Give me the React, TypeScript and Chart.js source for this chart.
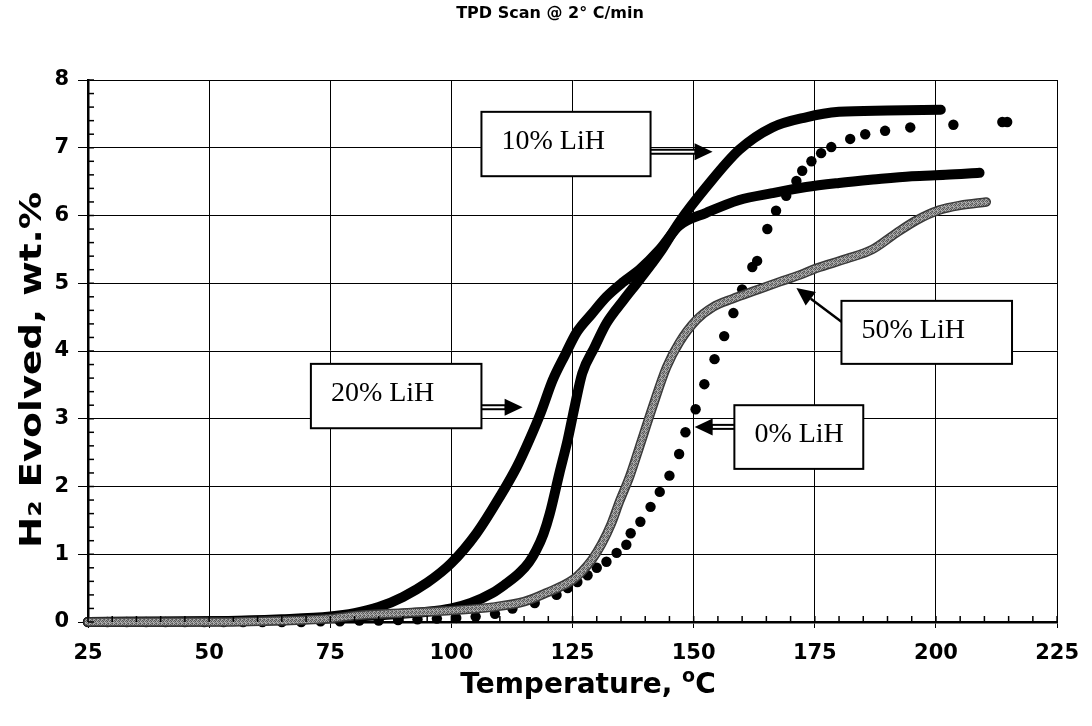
import React, { useEffect, useRef } from "react";
import { Chart, registerables } from "chart.js";

Chart.register(...registerables);

// ---------- data ----------
const chartTitle = "TPD Scan @ 2° C/min";
const xTickValues = [25, 50, 75, 100, 125, 150, 175, 200, 225];
const yTickValues = [0, 1, 2, 3, 4, 5, 6, 7, 8];

// 10% LiH (solid black, reaches ~7.5)
const t10 = [25, 50, 65, 75, 85, 95, 100, 104, 108.5, 111, 114, 116, 117.5, 119, 120.3, 122.3, 124, 125.5, 127, 129.5, 132, 135.5, 138.8, 143, 147, 152.6, 159.4, 166.2, 173.2, 180, 190, 201];
const h10 = [0, 0.01, 0.03, 0.06, 0.1, 0.15, 0.2, 0.28, 0.43, 0.55, 0.72, 0.88, 1.06, 1.3, 1.6, 2.2, 2.69, 3.2, 3.67, 4.05, 4.41, 4.75, 5.05, 5.45, 5.9, 6.42, 6.97, 7.3, 7.45, 7.53, 7.55, 7.56];

// 20% LiH (solid black, reaches ~6.6)
const t20 = [25, 50, 65, 75, 80, 85, 90, 95, 100, 105.2, 110, 113.5, 116.1, 118.5, 120.9, 123.5, 125.8, 129, 132, 135.5, 138.8, 143, 147, 152.6, 159.4, 166.2, 173.2, 180, 187, 195, 202, 209];
const h20 = [0, 0.01, 0.04, 0.08, 0.13, 0.22, 0.37, 0.58, 0.87, 1.31, 1.85, 2.29, 2.69, 3.1, 3.57, 3.95, 4.27, 4.55, 4.8, 5.02, 5.2, 5.5, 5.85, 6.04, 6.23, 6.33, 6.42, 6.48, 6.53, 6.58, 6.6, 6.63];

// 50% LiH (grey textured line)
const t50 = [25, 50, 65, 75, 81, 95, 108.5, 115, 119.6, 125, 127, 129, 131, 133, 134.7, 136.8, 138.8, 141.5, 144.4, 147, 150.6, 154, 158, 163, 167.7, 171.8, 175.3, 181.5, 186.9, 191.8, 196, 200.7, 205, 210.4];
const h50 = [0, 0, 0.02, 0.05, 0.1, 0.15, 0.22, 0.3, 0.43, 0.62, 0.75, 0.92, 1.15, 1.45, 1.78, 2.15, 2.58, 3.17, 3.76, 4.12, 4.46, 4.65, 4.77, 4.9, 5.02, 5.12, 5.22, 5.36, 5.5, 5.74, 5.93, 6.08, 6.15, 6.2];

// 0% LiH (large black dots)
const t0 = [25, 29, 33, 37, 41, 45, 49, 53, 57, 61, 65, 69, 73, 77, 81, 85, 89, 93, 97, 101, 105, 109, 112.6, 117.2, 121.7, 124, 126, 128.1, 130, 132, 134.1, 136.1, 137, 139, 141.1, 143, 145, 147, 148.3, 150.4, 152.2, 154.3, 156.3, 158.2, 160, 162.1, 163.1, 165.2, 167, 169.1, 171.2, 172.4, 174.3, 176.3, 178.4, 182.3, 185.4, 189.5, 194.7, 203.6, 213.7, 214.7];
const h0 = [0, 0, 0, 0, 0, 0, 0, 0, 0, 0, 0, 0, 0.01, 0.01, 0.02, 0.02, 0.03, 0.04, 0.05, 0.06, 0.08, 0.12, 0.2, 0.28, 0.4, 0.5, 0.59, 0.69, 0.8, 0.89, 1.02, 1.14, 1.31, 1.48, 1.7, 1.92, 2.16, 2.48, 2.8, 3.14, 3.51, 3.88, 4.22, 4.56, 4.91, 5.24, 5.33, 5.8, 6.07, 6.29, 6.51, 6.66, 6.8, 6.92, 7.01, 7.13, 7.2, 7.25, 7.3, 7.34, 7.38, 7.38];

// callout boxes (in data units: temperature, wt.%)
const callouts = [
  { text: "10% LiH", x0: 106.2, x1: 141.1, yTop: 7.53, yBot: 6.58, from: [141.1, 6.94], to: [153.9, 6.94], hollow: true },
  { text: "20% LiH", x0: 71.0, x1: 106.2, yTop: 3.81, yBot: 2.86, from: [106.2, 3.17], to: [114.7, 3.17], hollow: true },
  { text: "50% LiH", x0: 180.5, x1: 215.7, yTop: 4.74, yBot: 3.81, from: [180.5, 4.43], to: [171.2, 4.93], hollow: false },
  { text: "0% LiH", x0: 158.4, x1: 185.0, yTop: 3.2, yBot: 2.26, from: [158.4, 2.88], to: [150.2, 2.88], hollow: true },
];

const zip = (xs: number[], ys: number[]) => xs.map((x, i) => ({ x, y: ys[i] }));

const FONT = "'DejaVu Sans', Verdana, sans-serif";

function makeGreyPattern(): CanvasPattern | string {
  const c = document.createElement("canvas");
  c.width = 4;
  c.height = 4;
  const g = c.getContext("2d");
  if (!g) return "#999";
  const shades = [
    "#6e6e6e", "#a8a8a8", "#555555", "#969696",
    "#b4b4b4", "#626262", "#9e9e9e", "#4c4c4c",
    "#8a8a8a", "#bababa", "#727272", "#a2a2a2",
    "#5a5a5a", "#989898", "#b0b0b0", "#6a6a6a",
  ];
  for (let i = 0; i < 16; i++) {
    g.fillStyle = shades[i];
    g.fillRect(i % 4, Math.floor(i / 4), 1, 1);
  }
  return g.createPattern(c, "repeat") || "#999";
}

const overlayPlugin = {
  id: "overlay",
  afterDraw(chart: any) {
    const { ctx, chartArea } = chart;
    const xs = chart.scales.x;
    const ys = chart.scales.y;
    ctx.save();

    // minor ticks (inside)
    ctx.strokeStyle = "#000";
    ctx.lineWidth = 1.5;
    for (let v = 0; v <= 8.0001; v += 0.2) {
      const py = ys.getPixelForValue(v);
      ctx.beginPath();
      ctx.moveTo(chartArea.left, py);
      ctx.lineTo(chartArea.left + 6, py);
      ctx.stroke();
    }
    for (let v = 25; v <= 225.0001; v += 5) {
      const px = xs.getPixelForValue(v);
      ctx.beginPath();
      ctx.moveTo(px, chartArea.bottom);
      ctx.lineTo(px, chartArea.bottom - 6);
      ctx.stroke();
    }

    // callouts
    for (const c of callouts) {
      const l = xs.getPixelForValue(c.x0);
      const r = xs.getPixelForValue(c.x1);
      const t = ys.getPixelForValue(c.yTop);
      const b = ys.getPixelForValue(c.yBot);
      const fx = xs.getPixelForValue(c.from[0]);
      const fy = ys.getPixelForValue(c.from[1]);
      const tx = xs.getPixelForValue(c.to[0]);
      const ty = ys.getPixelForValue(c.to[1]);
      const ang = Math.atan2(ty - fy, tx - fx);
      const headLen = 18;
      const headHalf = 8.5;
      const bx = tx - Math.cos(ang) * headLen;
      const by = ty - Math.sin(ang) * headLen;
      ctx.lineCap = "butt";
      if (c.hollow) {
        ctx.strokeStyle = "#000";
        ctx.lineWidth = 6;
        ctx.beginPath();
        ctx.moveTo(fx, fy);
        ctx.lineTo(bx + Math.cos(ang) * 2, by + Math.sin(ang) * 2);
        ctx.stroke();
        ctx.strokeStyle = "#fff";
        ctx.lineWidth = 2;
        ctx.beginPath();
        ctx.moveTo(fx, fy);
        ctx.lineTo(bx, by);
        ctx.stroke();
      } else {
        ctx.strokeStyle = "#000";
        ctx.lineWidth = 2.5;
        ctx.beginPath();
        ctx.moveTo(fx, fy);
        ctx.lineTo(bx, by);
        ctx.stroke();
      }
      ctx.fillStyle = "#000";
      ctx.beginPath();
      ctx.moveTo(tx, ty);
      ctx.lineTo(bx - Math.sin(ang) * headHalf, by + Math.cos(ang) * headHalf);
      ctx.lineTo(bx + Math.sin(ang) * headHalf, by - Math.cos(ang) * headHalf);
      ctx.closePath();
      ctx.fill();
      ctx.fillStyle = "#fff";
      ctx.fillRect(l, t, r - l, b - t);
      ctx.strokeStyle = "#000";
      ctx.lineWidth = 2;
      ctx.strokeRect(l, t, r - l, b - t);
      ctx.fillStyle = "#000";
      ctx.font = "28px 'Liberation Serif', 'Times New Roman', serif";
      ctx.textAlign = "left";
      ctx.textBaseline = "alphabetic";
      ctx.fillText(c.text, l + 20, t + 37);
    }

    // chart title
    ctx.fillStyle = "#000";
    ctx.font = `bold 16px ${FONT}`;
    ctx.textAlign = "center";
    ctx.textBaseline = "middle";
    ctx.fillText(chartTitle, 550, 14);

    // x-axis title with superscript o
    const main = "Temperature, ";
    ctx.font = `bold 28px ${FONT}`;
    const wMain = ctx.measureText(main).width;
    const wC = ctx.measureText("C").width;
    ctx.font = `bold 19px ${FONT}`;
    const wO = ctx.measureText("o").width;
    const total = wMain + wO + wC;
    const cx = 588;
    const base = 693;
    let xp = cx - total / 2;
    ctx.textAlign = "left";
    ctx.textBaseline = "alphabetic";
    ctx.font = `bold 28px ${FONT}`;
    ctx.fillText(main, xp, base);
    xp += wMain;
    ctx.font = `bold 19px ${FONT}`;
    ctx.fillText("o", xp, base - 11);
    xp += wO;
    ctx.font = `bold 28px ${FONT}`;
    ctx.fillText("C", xp, base);

    // y-axis title (rotated)
    ctx.save();
    ctx.translate(41, 370);
    ctx.rotate(-Math.PI / 2);
    ctx.font = `bold 31px ${FONT}`;
    const ytxt = "H₂ Evolved, wt.%";
    const wy = ctx.measureText(ytxt).width;
    const target = 356;
    ctx.scale(target / wy, 1);
    ctx.textAlign = "center";
    ctx.textBaseline = "alphabetic";
    ctx.fillText(ytxt, 0, 0);
    ctx.restore();

    ctx.restore();
  },
};

export default function App() {
  const ref = useRef<HTMLCanvasElement | null>(null);

  useEffect(() => {
    if (!ref.current) return;
    const grey = makeGreyPattern();
    const lineCommon = {
      pointRadius: 0,
      cubicInterpolationMode: "monotone" as const,
      borderCapStyle: "round" as const,
      borderJoinStyle: "round" as const,
      clip: false as any,
    };
    const chart = new Chart(ref.current, {
      type: "line",
      data: {
        datasets: [
          { label: "50% LiH", data: zip(t50, h50), borderColor: grey as any, borderWidth: 6.5, order: 0, ...lineCommon },
          { label: "50% LiH edge", data: zip(t50, h50), borderColor: "#3a3a3a", borderWidth: 9.5, order: 1, ...lineCommon },
          { label: "10% LiH", data: zip(t10, h10), borderColor: "#000", borderWidth: 10, order: 2, ...lineCommon },
          { label: "20% LiH", data: zip(t20, h20), borderColor: "#000", borderWidth: 10, order: 2, ...lineCommon },
          {
            label: "0% LiH",
            data: zip(t0, h0),
            showLine: false,
            pointRadius: 5.2,
            pointBackgroundColor: "#000",
            pointBorderWidth: 0,
            borderColor: "#000",
            clip: false as any,
            order: 3,
          },
        ],
      },
      options: {
        animation: false,
        responsive: true,
        maintainAspectRatio: false,
        devicePixelRatio: 1,
        layout: { padding: { top: 80, right: 34, left: 0, bottom: 0 } },
        plugins: {
          legend: { display: false },
          title: { display: false },
          tooltip: { enabled: false },
        },
        scales: {
          x: {
            type: "linear",
            min: 25,
            max: 225,
            afterBuildTicks: (s: any) => {
              s.ticks = xTickValues.map((v) => ({ value: v }));
            },
            afterFit: (s: any) => {
              s.height = 104;
            },
            ticks: {
              color: "#000",
              font: { family: FONT, weight: "bold", size: 21 },
              padding: 13,
              maxRotation: 0,
            },
            grid: { color: "#000", lineWidth: 1, tickLength: 6, drawTicks: true },
            border: { display: true, color: "#000", width: 2.5 },
          },
          y: {
            type: "linear",
            min: 0,
            max: 8,
            afterBuildTicks: (s: any) => {
              s.ticks = yTickValues.map((v) => ({ value: v }));
            },
            afterFit: (s: any) => {
              s.width = 88;
            },
            ticks: {
              color: "#000",
              font: { family: FONT, weight: "bold", size: 21 },
              padding: 9,
            },
            grid: { color: "#000", lineWidth: 1, tickLength: 10, drawTicks: true },
            border: { display: true, color: "#000", width: 2.5 },
          },
        },
      },
      plugins: [overlayPlugin],
    });
    return () => chart.destroy();
  }, []);

  return (
    <div style={{ position: "absolute", left: 0, top: 0, width: 1092, height: 726, background: "#fff" }}>
      <canvas ref={ref} width={1092} height={726} />
    </div>
  );
}
